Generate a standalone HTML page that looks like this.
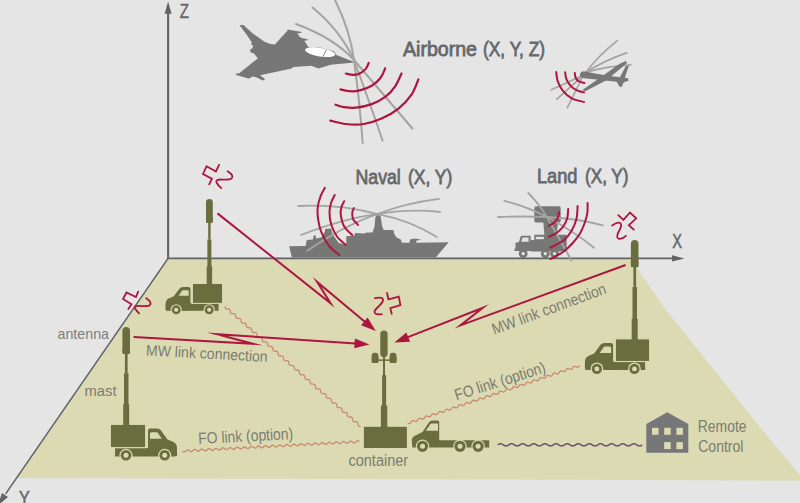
<!DOCTYPE html>
<html><head><meta charset="utf-8"><title>Passive surveillance system diagram</title>
<style>
html,body{margin:0;padding:0;background:#e5e5e5;}
body{width:800px;height:503px;overflow:hidden;font-family:"Liberation Sans",sans-serif;}
svg{display:block;font-family:"Liberation Sans",sans-serif;}
</style></head><body>
<svg width="800" height="503" viewBox="0 0 800 503">
<rect width="800" height="503" fill="#e5e5e5"/>
<path d="M168.5,259 L630.6,259 L666,310 L770.4,440 L800.5,475.5 L800.5,480.5 L17.5,478 Z" fill="#dbdab3"/>
<g stroke="#626366" fill="none"><line x1="168.1" y1="258.4" x2="168.1" y2="12" stroke-width="2.1"/><line x1="167.1" y1="258.4" x2="673" y2="258.4" stroke-width="1.9"/><line x1="168.1" y1="258.4" x2="5.6" y2="493.9" stroke-width="1.6"/></g>
<polygon points="168.1,1.5 164.6,13.8 171.6,13.8" fill="#626366"/>
<polygon points="684.5,258.4 672,255.2 672,261.6" fill="#626366"/>
<polygon points="-2.4,505.7 2.0,492.9 8.0,497.1" fill="#626366"/>
<path d="M225.0,306.6 q0.00,2.67 2.66,2.35 t2.66,2.35 t2.66,2.35 t2.66,2.35 t2.66,2.35 t2.66,2.35 t2.66,2.35 t2.66,2.35 t2.66,2.35 t2.66,2.35 t2.66,2.35 t2.66,2.35 t2.66,2.35 t2.66,2.35 t2.66,2.35 t2.66,2.35 t2.66,2.35 t2.66,2.35 t2.66,2.35 t2.66,2.35 t2.66,2.35 t2.66,2.35 t2.66,2.35 t2.66,2.35 t2.66,2.35 t2.66,2.35 t2.66,2.35 t2.66,2.35 t2.66,2.35 t2.66,2.35 t2.66,2.35 t2.66,2.35 t2.66,2.35 t2.66,2.35 t2.66,2.35 t2.66,2.35 t2.66,2.35 t2.66,2.35 t2.66,2.35 t2.66,2.35 t2.66,2.35 t2.66,2.35 t2.66,2.35 t2.66,2.35 t2.66,2.35 t2.66,2.35 t2.66,2.35 t2.66,2.35 t2.66,2.35 t2.66,2.35 t2.66,2.35" fill="none" stroke="#c98a6e" stroke-width="1.3"/>
<path d="M182.4,451.1 q1.88,1.90 3.54,-0.19 t3.54,-0.19 t3.54,-0.19 t3.54,-0.19 t3.54,-0.19 t3.54,-0.19 t3.54,-0.19 t3.54,-0.19 t3.54,-0.19 t3.54,-0.19 t3.54,-0.19 t3.54,-0.19 t3.54,-0.19 t3.54,-0.19 t3.54,-0.19 t3.54,-0.19 t3.54,-0.19 t3.54,-0.19 t3.54,-0.19 t3.54,-0.19 t3.54,-0.19 t3.54,-0.19 t3.54,-0.19 t3.54,-0.19 t3.54,-0.19 t3.54,-0.19 t3.54,-0.19 t3.54,-0.19 t3.54,-0.19 t3.54,-0.19 t3.54,-0.19 t3.54,-0.19 t3.54,-0.19 t3.54,-0.19 t3.54,-0.19 t3.54,-0.19 t3.54,-0.19 t3.54,-0.19 t3.54,-0.19 t3.54,-0.19 t3.54,-0.19 t3.54,-0.19 t3.54,-0.19 t3.54,-0.19 t3.54,-0.19 t3.54,-0.19 t3.54,-0.19 t3.54,-0.19 t3.54,-0.19 t3.54,-0.19" fill="none" stroke="#c98a6e" stroke-width="1.3"/>
<path d="M407.7,423.2 q2.32,1.33 3.37,-1.13 t3.37,-1.13 t3.37,-1.13 t3.37,-1.13 t3.37,-1.13 t3.37,-1.13 t3.37,-1.13 t3.37,-1.13 t3.37,-1.13 t3.37,-1.13 t3.37,-1.13 t3.37,-1.13 t3.37,-1.13 t3.37,-1.13 t3.37,-1.13 t3.37,-1.13 t3.37,-1.13 t3.37,-1.13 t3.37,-1.13 t3.37,-1.13 t3.37,-1.13 t3.37,-1.13 t3.37,-1.13 t3.37,-1.13 t3.37,-1.13 t3.37,-1.13 t3.37,-1.13 t3.37,-1.13 t3.37,-1.13 t3.37,-1.13 t3.37,-1.13 t3.37,-1.13 t3.37,-1.13 t3.37,-1.13 t3.37,-1.13 t3.37,-1.13 t3.37,-1.13 t3.37,-1.13 t3.37,-1.13 t3.37,-1.13 t3.37,-1.13 t3.37,-1.13 t3.37,-1.13 t3.37,-1.13 t3.37,-1.13 t3.37,-1.13 t3.37,-1.13 t3.37,-1.13 t3.37,-1.13 t3.37,-1.13 t3.37,-1.13" fill="none" stroke="#c98a6e" stroke-width="1.3"/>
<path d="M497.7,444.8 q2.78,-2.10 5.56,0.00 t5.56,0.00 t5.56,0.00 t5.56,0.00 t5.56,0.00 t5.56,0.00 t5.56,0.00 t5.56,0.00 t5.56,0.00 t5.56,0.00 t5.56,0.00 t5.56,0.00 t5.56,0.00 t5.56,0.00 t5.56,0.00 t5.56,0.00 t5.56,0.00 t5.56,0.00 t5.56,0.00 t5.56,0.00 t5.56,0.00 t5.56,0.00 t5.56,0.00 t5.56,0.00 t5.56,0.00 t5.56,0.00" fill="none" stroke="#6e5074" stroke-width="1.5"/>
<g transform="translate(193,284) scale(-0.853,0.853) translate(-34,0)" fill="#6a6d3d"><path d="M4,23 L66,23 L66,29 Q66,31.5 63.5,31.5 L4,31.5 Z"/><path d="M37,31 L37,5.5 Q37,3.5 39,3.5 L46,3.5 Q48.5,3.5 50,5.5 L56.5,14.5 L62,16.8 Q66,18.5 66,23 L66,31 Z"/><path d="M39,13.8 L39,8.8 Q39,7.2 40.6,7.2 L45.2,7.2 Q46.4,7.2 47.2,8.4 L50.8,13.8 Z" fill="#dbdab3"/><rect x="-0.7" y="-0.7" width="35.4" height="23.4" fill="#6a6d3d" stroke="#dbdab3" stroke-width="1.2"/><circle cx="15" cy="30.3" r="6.6" fill="#dbdab3"/><circle cx="15" cy="30.3" r="5.3"/><circle cx="15" cy="30.3" r="2.5" fill="#dbdab3"/><circle cx="53.7" cy="30.3" r="6.6" fill="#dbdab3"/><circle cx="53.7" cy="30.3" r="5.3"/><circle cx="53.7" cy="30.3" r="2.5" fill="#dbdab3"/></g>
<g fill="#6a6d3d"><rect x="206.0" y="199" width="6.8" height="24" rx="3.4" ry="3.4"/><rect x="206.0" y="217" width="6.8" height="6" rx="1"/><rect x="208.2" y="222" width="2.4" height="17.5"/><rect x="207.4" y="239.5" width="4.0" height="27.8"/><rect x="206.7" y="266.3" width="5.4" height="18.7"/></g>
<g transform="translate(111,425) scale(1.0)" fill="#6a6d3d"><path d="M4,23 L66,23 L66,29 Q66,31.5 63.5,31.5 L4,31.5 Z"/><path d="M37,31 L37,5.5 Q37,3.5 39,3.5 L46,3.5 Q48.5,3.5 50,5.5 L56.5,14.5 L62,16.8 Q66,18.5 66,23 L66,31 Z"/><path d="M39,13.8 L39,8.8 Q39,7.2 40.6,7.2 L45.2,7.2 Q46.4,7.2 47.2,8.4 L50.8,13.8 Z" fill="#dbdab3"/><rect x="-0.7" y="-0.7" width="35.4" height="23.4" fill="#6a6d3d" stroke="#dbdab3" stroke-width="1.2"/><circle cx="15" cy="30.3" r="6.6" fill="#dbdab3"/><circle cx="15" cy="30.3" r="5.3"/><circle cx="15" cy="30.3" r="2.5" fill="#dbdab3"/><circle cx="53.7" cy="30.3" r="6.6" fill="#dbdab3"/><circle cx="53.7" cy="30.3" r="5.3"/><circle cx="53.7" cy="30.3" r="2.5" fill="#dbdab3"/></g>
<g fill="#6a6d3d"><rect x="122.4" y="327" width="7.6" height="27" rx="3.8" ry="3.8"/><rect x="122.4" y="348" width="7.6" height="6" rx="1"/><rect x="124.9" y="353" width="2.7" height="20.2"/><rect x="124.0" y="373.2" width="4.5" height="32.2"/><rect x="123.2" y="404.4" width="6.0" height="21.6"/></g>
<g transform="translate(616,339.5) scale(-0.97,0.97) translate(-34,0)" fill="#6a6d3d"><path d="M4,23 L66,23 L66,29 Q66,31.5 63.5,31.5 L4,31.5 Z"/><path d="M37,31 L37,5.5 Q37,3.5 39,3.5 L46,3.5 Q48.5,3.5 50,5.5 L56.5,14.5 L62,16.8 Q66,18.5 66,23 L66,31 Z"/><path d="M39,13.8 L39,8.8 Q39,7.2 40.6,7.2 L45.2,7.2 Q46.4,7.2 47.2,8.4 L50.8,13.8 Z" fill="#dbdab3"/><rect x="-0.7" y="-0.7" width="35.4" height="23.4" fill="#6a6d3d" stroke="#dbdab3" stroke-width="1.2"/><circle cx="15" cy="30.3" r="6.6" fill="#dbdab3"/><circle cx="15" cy="30.3" r="5.3"/><circle cx="15" cy="30.3" r="2.5" fill="#dbdab3"/><circle cx="53.7" cy="30.3" r="6.6" fill="#dbdab3"/><circle cx="53.7" cy="30.3" r="5.3"/><circle cx="53.7" cy="30.3" r="2.5" fill="#dbdab3"/></g>
<g fill="#6a6d3d"><rect x="630.9" y="240" width="7.6" height="27.30000000000001" rx="3.8" ry="3.8"/><rect x="630.9" y="261.3" width="7.6" height="6" rx="1"/><rect x="633.4" y="266.3" width="2.7" height="20.6"/><rect x="632.5" y="286.9" width="4.5" height="33.0"/><rect x="631.7" y="318.9" width="6.0" height="22.1"/></g>
<g fill="#6a6d3d"><rect x="380.3" y="330.6" width="7.3" height="26.6" rx="3.6"/><rect x="371.7" y="352.7" width="6.8" height="10.2" rx="3.2"/><rect x="371.7" y="357.5" width="6.8" height="5.4" rx="1"/><rect x="389.7" y="352.7" width="6.8" height="10.2" rx="3.2"/><rect x="389.7" y="357.5" width="6.8" height="5.4" rx="1"/><rect x="376" y="359.4" width="17" height="1.5"/><rect x="383" y="355" width="2" height="22"/><rect x="382.1" y="375.2" width="4" height="31"/><rect x="380.9" y="405.6" width="6.4" height="22"/><rect x="363.9" y="426.8" width="43" height="21.2"/></g>
<g fill="#6a6d3d"><path d="M412.4,447.5 L411.8,441 Q411.6,437.5 414.5,436 L422.5,432 L428.5,423 Q430,420.6 432.5,420.6 L437.5,420.6 Q439.2,420.6 439.2,422.3 L439.2,440.2 L489.2,440.2 L489.2,447.5 Z"/><path d="M425.8,430.8 L430.3,424.2 Q430.8,423.5 431.6,423.5 L438,423.5 L438,430.8 Z" fill="#dbdab3"/><circle cx="422.5" cy="446.3" r="6.7" fill="#dbdab3"/><circle cx="422.5" cy="446.3" r="5.6"/><circle cx="422.5" cy="446.3" r="2.5" fill="#dbdab3"/><circle cx="460" cy="446.3" r="6.7" fill="#dbdab3"/><circle cx="460" cy="446.3" r="5.6"/><circle cx="460" cy="446.3" r="2.5" fill="#dbdab3"/><circle cx="478.1" cy="446.3" r="6.7" fill="#dbdab3"/><circle cx="478.1" cy="446.3" r="5.6"/><circle cx="478.1" cy="446.3" r="2.5" fill="#dbdab3"/></g>
<g><path d="M646.3,452.8 L646.3,424 L667.3,412.2 L688.3,424 L688.3,452.8 Z" fill="#77777a"/><rect x="652" y="427.8" width="6.5" height="7" fill="#dbdab3"/><rect x="664.2" y="427.8" width="6.5" height="7" fill="#dbdab3"/><rect x="676.4" y="427.8" width="6.5" height="7" fill="#dbdab3"/><rect x="664.2" y="442.1" width="6.5" height="7" fill="#dbdab3"/><rect x="676.4" y="442.1" width="6.5" height="7" fill="#dbdab3"/></g>
<path d="M217.5,213.4 L330.6,303.3 L317.1,281.9 L365.1,322.0" fill="none" stroke="#ad1640" stroke-width="2.0" stroke-linejoin="miter" stroke-miterlimit="40"/>
<path d="M375.8,331.1 L361.1,325.2 L367.6,317.6 Z" fill="#ad1640"/>
<path d="M133.6,337.0 L252.8,343.7 L217.1,334.3 L355.5,343.4" fill="none" stroke="#ad1640" stroke-width="2.0" stroke-linejoin="miter" stroke-miterlimit="40"/>
<path d="M369.5,344.4 L354.2,348.3 L354.9,338.4 Z" fill="#ad1640"/>
<path d="M625.6,265.0 L460.3,325.4 L482.9,307.8 L407.3,337.4" fill="none" stroke="#ad1640" stroke-width="2.0" stroke-linejoin="miter" stroke-miterlimit="40"/>
<path d="M394.3,342.6 L406.4,332.4 L410.1,341.7 Z" fill="#ad1640"/>
<g fill="none" stroke="#ad1640" stroke-width="1.8" stroke-linecap="round" stroke-linejoin="miter"><polyline points="219.1,164.8 215.9,171.5 206.5,166.2 203.0,174.0 211.9,178.7 209.2,184.3"/><path d="M227.6,171.3 Q234.5,175.5 231.5,178.5 Q229.5,180.2 221,179.5 Q215,179.5 216.6,182.5 Q218,185.5 221.3,188.1"/></g>
<g fill="none" stroke="#ad1640" stroke-width="1.8" stroke-linecap="round" stroke-linejoin="miter"><polyline points="138.2,291.6 135.9,297.0 126.5,292.5 123.0,299.0 131.5,304.2 128.3,309.1"/><path d="M146.2,298.3 Q152.5,302.5 149.8,305.2 Q148,306.6 139.5,305.9 Q133.5,305.6 135,308.5 Q136.5,311 139.1,313.3"/></g>
<g fill="none" stroke="#ad1640" stroke-width="1.8" stroke-linecap="round" stroke-linejoin="miter"><polyline points="387.0,293.0 388.5,299.3 398.8,296.6 400.4,305.1 390.3,308.1 391.7,313.8"/><path d="M374.9,298.2 Q383.5,296.5 383,300.5 Q382.5,303 377,308 Q372.5,312.5 376,313.8 Q379,314.6 381.8,314.1"/></g>
<g fill="none" stroke="#ad1640" stroke-width="1.8" stroke-linecap="round" stroke-linejoin="miter"><polyline points="618.3,215.2 623.4,219.9 630.0,212.5 636.2,218.3 628.8,225.2 633.8,229.7"/><path d="M612.1,225.5 Q619.5,220.5 621,224 Q621.8,226.5 618.5,232 Q615.5,238 619.2,238.9 Q622.5,239.2 625.9,235.8"/></g>
<polygon points="239.4,24.9 243.5,25.1 252.5,33.2 263.8,41.2 269.4,43.8 274.8,44.4 287.4,30.8 287.4,29.6 302.0,32.1 300.9,33.0 297.5,33.3 299.8,36.9 302.0,38.1 307.6,39.2 307.6,40.3 304.3,40.7 308.8,47.6 320.0,47.5 334.0,51.2 336.4,54.9 354.3,61.9 354.3,62.6 330.7,64.7 318.6,68.4 314.5,67.1 311.3,65.8 293.4,67.1 291.8,68.4 260.0,75.2 263.7,77.9 265.0,79.6 262.8,80.5 256.2,77.2 251.9,76.4 250.4,77.9 248.6,78.4 236.1,74.9 235.7,73.4 238.9,73.5 257.8,58.4 256.4,56.6 254.2,53.8 250.3,52.1 250.3,49.3 252.5,48.2 253.0,45.4 250.8,44.3 251.9,42.6 246.5,34.5" fill="#777777"/>
<g transform="rotate(9 320.2 52.2)"><ellipse cx="320.2" cy="52.2" rx="15.2" ry="4.3" fill="#fff"/><line x1="323.5" y1="56.3" x2="326" y2="48.5" stroke="#777777" stroke-width="0.8"/></g>
<g fill="none" stroke="#a4a4a4" stroke-width="2" stroke-linecap="round"><path d="M296,24 Q334,38 354,60 Q379.6,89.8 412.4,128.5"/><path d="M312.5,7.5 Q340,30 354,60 Q368,98 382.6,140.5"/><path d="M335,0 Q350,30 354,60 Q359.5,100 362.7,143"/></g>
<g fill="none" stroke="#ad1640" stroke-width="2.2" stroke-linecap="round"><path d="M368.7,62.9 C368.2,63.9 367.2,67.1 365.7,68.9 C364.2,70.7 361.9,72.5 359.8,73.5 C357.7,74.5 355.1,74.9 352.8,74.9 C350.5,74.9 347.0,73.7 345.8,73.5"/><path d="M385.2,68.3 C384.4,69.9 382.9,74.9 380.6,77.8 C378.4,80.7 375.2,83.7 371.7,85.8 C368.2,87.9 363.4,89.5 359.8,90.4 C356.2,91.3 353.0,91.4 349.8,91.2 C346.6,91.0 342.1,89.7 340.5,89.4"/><path d="M401.5,73.5 C400.5,75.5 398.1,81.9 395.5,85.8 C392.9,89.7 389.6,93.7 385.6,96.7 C381.6,99.8 376.7,102.3 371.7,104.1 C366.7,105.9 360.4,107.2 355.8,107.7 C351.2,108.2 347.3,107.6 343.9,107.1 C340.5,106.6 336.9,105.1 335.5,104.7"/><path d="M418.4,79.4 C417.2,82.0 414.8,89.8 411.5,94.7 C408.2,99.6 403.5,104.6 398.5,108.6 C393.5,112.6 387.4,116.0 381.6,118.6 C375.8,121.2 369.7,123.1 363.7,124.0 C357.7,124.9 351.4,124.6 345.8,124.0 C340.2,123.4 332.9,121.2 330.3,120.6"/></g>
<g fill="none" stroke="#a4a4a4" stroke-width="1.7" stroke-linecap="round"><path d="M617.3,40.7 Q598,56 586,72.5"/><path d="M581.5,76 L551.3,89.8"/><path d="M626.7,52.9 Q603,61 586,72.5"/><path d="M581.5,77 L556.9,99.1"/><path d="M630.7,64.8 Q606,66 586,72.5"/><path d="M582,78 L567.4,107.7"/></g>
<g fill="#777777" stroke="none"><path d="M579.9,74.4 Q580.5,71.5 584,71.3 L595,73.4 L610,76 L628.2,78.3 L628.4,80.8 L623.7,82.3 L621.9,86.8 L619.5,86.8 L616.7,81.8 L598.8,79.8 L584,78.3 Q580,77.5 579.9,74.4 Z"/><path d="M582.4,90 L584.9,91.6 L606.8,80 L627,62.9 L625.7,60.9 L619.7,63.7 L602.8,75.8 Z"/><path d="M618.5,80 L625.7,66.2 L628.8,65.7 L624.4,79 Z"/></g>
<g fill="none" stroke="#ad1640" stroke-width="2" stroke-linecap="round"><path d="M574.8,73.0 C574.9,73.8 575.0,76.1 575.6,77.5 C576.2,78.9 577.0,80.3 578.5,81.2 C580.0,82.1 583.5,82.7 584.5,83.0"/><path d="M565.1,72.3 C565.4,73.5 565.6,77.3 566.6,79.7 C567.6,82.1 569.4,84.6 571.1,86.4 C572.8,88.2 574.9,89.4 577.0,90.4 C579.1,91.4 582.8,92.1 584.0,92.4"/><path d="M556.2,72.0 C556.5,73.5 556.6,78.0 557.7,81.2 C558.8,84.4 560.5,88.1 562.9,90.9 C565.2,93.8 568.3,96.5 571.8,98.3 C575.3,100.1 582.0,101.4 584.0,102.0"/></g>
<polygon points="291.9,257.4 289.2,246.3 305.6,246.0 306.8,240.0 313.0,239.4 313.5,235.7 315.6,235.3 316.0,238.6 321.3,237.6 325.0,231.3 325.0,229.0 331.3,228.5 331.9,231.9 333.1,235.0 338.8,243.0 346.2,244.8 346.3,236.3 354.4,235.6 355.0,233.1 365.0,233.4 366.3,232.4 372.5,232.4 374.4,227.3 375.4,217.3 377.4,214.5 380.6,216.2 382.3,226.9 383.8,230.0 393.4,230.0 394.4,234.3 396.6,237.5 400.8,239.6 401.9,242.8 409.3,242.8 410.4,239.2 415.7,238.6 421.0,239.6 416.3,240.7 416.3,242.8 448.7,242.2 435.8,257.4" fill="#777777"/>
<g fill="none" stroke="#a4a4a4" stroke-width="1.8" stroke-linecap="round"><path d="M298.2,206 Q340,204 377.4,214.1"/><path d="M300.9,235 Q345,218 377.4,214.1"/><path d="M307.3,250.7 Q345,225 377.4,214.1"/><path d="M439.1,198.8 Q405,203 377.4,214.1"/><path d="M440.1,212 Q410,208.5 377.4,214.1"/><path d="M436.9,237.1 Q410,220 377.4,214.1"/></g>
<g fill="none" stroke="#ad1640" stroke-width="2" stroke-linecap="round"><path d="M353.9,208.1 C353.6,208.8 352.4,210.8 352.3,212.6 C352.2,214.4 352.2,217.1 353.1,219.2 C354.1,221.2 357.2,223.9 358.0,224.9"/><path d="M344.2,201.2 C343.7,202.3 341.8,205.2 341.2,207.7 C340.6,210.1 340.4,212.8 340.9,215.9 C341.4,219.0 342.3,223.3 344.2,226.5 C346.1,229.7 350.9,233.7 352.3,235.1"/><path d="M334.7,195.0 C334.1,196.3 332.0,199.9 331.1,202.8 C330.2,205.7 329.5,209.1 329.5,212.6 C329.5,216.1 329.9,220.1 331.1,224.0 C332.3,227.9 334.4,232.8 336.8,236.3 C339.2,239.8 344.3,243.5 345.8,244.9"/><path d="M324.9,187.8 C324.2,189.2 321.7,193.0 320.5,196.3 C319.3,199.6 318.1,203.9 317.7,207.7 C317.3,211.5 317.5,215.1 318.1,219.2 C318.7,223.3 319.5,227.8 321.3,232.2 C323.1,236.5 325.7,241.5 328.7,245.3 C331.7,249.1 337.5,253.4 339.3,255.0"/></g>
<g fill="#777777"><rect x="534.3" y="206.2" width="26.4" height="16.3" rx="1.8"/><path d="M543.3,222 L558,222 L556.5,236 L544.5,236 Z"/><rect x="534.3" y="234.7" width="32.4" height="5.5"/><rect x="531" y="240" width="35.7" height="11.5"/><path d="M514.5,251 L514.5,248.5 L515.5,248.5 L515.5,242.8 L519,242 L520.5,236.8 Q520.8,235.8 522,235.8 L530.5,235.8 L531.5,251 Z"/><rect x="535.8" y="236.8" width="8" height="2.4" fill="#e5e5e5"/><path d="M521.2,241.8 L522.3,238.2 Q522.5,237.6 523.2,237.6 L528.6,237.6 L528.6,241.8 Z" fill="#e5e5e5"/><circle cx="523.2" cy="253.6" r="4.4"/><circle cx="523.2" cy="253.6" r="1.7" fill="#e5e5e5"/><circle cx="545.3" cy="253.6" r="4.4"/><circle cx="545.3" cy="253.6" r="1.7" fill="#e5e5e5"/><circle cx="554.5" cy="253.6" r="4.4"/><circle cx="554.5" cy="253.6" r="1.7" fill="#e5e5e5"/></g>
<g fill="none" stroke="#a4a4a4" stroke-width="1.8" stroke-linecap="round"><path d="M498,217 Q525,216 546.8,217 Q580,219 603,225.3"/><path d="M504.3,200.8 Q528,207 546.8,217 Q575,232 594,247.8"/><path d="M528.3,193 Q540,205 546.8,217 Q560,240 571.5,260.5"/></g>
<g fill="none" stroke="#ad1640" stroke-width="2" stroke-linecap="round"><path d="M559.1,212.0 C558.9,213.0 558.7,216.2 557.8,218.0 C556.9,219.8 555.4,221.5 553.9,222.8 C552.4,224.1 549.8,225.1 549.0,225.6"/><path d="M568.2,208.9 C568.0,210.5 568.1,215.6 567.1,218.7 C566.1,221.8 564.1,225.3 562.3,227.7 C560.4,230.1 558.2,231.8 556.0,233.3 C553.8,234.8 550.2,236.1 549.0,236.7"/><path d="M577.6,206.1 C577.4,208.2 577.5,214.5 576.5,218.7 C575.5,222.9 573.4,227.6 571.3,231.2 C569.2,234.8 567.2,237.5 563.7,240.2 C560.2,242.9 552.6,246.4 550.4,247.6"/><path d="M587.6,203.1 C587.5,204.8 587.8,209.7 587.3,213.1 C586.8,216.5 585.8,220.0 584.5,223.5 C583.2,227.0 581.7,230.8 579.7,234.0 C577.7,237.2 575.5,240.0 572.7,243.0 C569.9,246.0 566.7,249.3 563.0,252.0 C559.3,254.7 552.5,257.8 550.4,259.0"/></g>
<text x="179.8" y="17.7" font-size="19.8" font-weight="normal" fill="#66686c" textLength="9.2" lengthAdjust="spacingAndGlyphs" stroke="#66686c" stroke-width="0.5">Z</text>
<text x="672.2" y="248.4" font-size="19.8" font-weight="normal" fill="#66686c" textLength="9.8" lengthAdjust="spacingAndGlyphs" stroke="#66686c" stroke-width="0.5">X</text>
<text x="19" y="505" font-size="19.6" font-weight="normal" fill="#66686c" textLength="10.8" lengthAdjust="spacingAndGlyphs" stroke="#66686c" stroke-width="0.5">Y</text>
<text x="403" y="56" font-size="20.5" font-weight="normal" fill="#66686c" textLength="74" lengthAdjust="spacingAndGlyphs" stroke="#66686c" stroke-width="0.8">Airborne</text>
<text x="483" y="56" font-size="20.5" font-weight="normal" fill="#66686c" textLength="62" lengthAdjust="spacingAndGlyphs" stroke="#66686c" stroke-width="0.8">(X, Y, Z)</text>
<text x="355.5" y="184.3" font-size="20.5" font-weight="normal" fill="#66686c" textLength="45.3" lengthAdjust="spacingAndGlyphs" stroke="#66686c" stroke-width="0.8">Naval</text>
<text x="408" y="184.3" font-size="20.5" font-weight="normal" fill="#66686c" textLength="44.2" lengthAdjust="spacingAndGlyphs" stroke="#66686c" stroke-width="0.8">(X, Y)</text>
<text x="537" y="182.8" font-size="20.5" font-weight="normal" fill="#66686c" textLength="40.5" lengthAdjust="spacingAndGlyphs" stroke="#66686c" stroke-width="0.8">Land</text>
<text x="585" y="182.8" font-size="20.5" font-weight="normal" fill="#66686c" textLength="43.5" lengthAdjust="spacingAndGlyphs" stroke="#66686c" stroke-width="0.8">(X, Y)</text>
<text x="57.5" y="339.3" font-size="15" font-weight="normal" fill="#7d7e7c" textLength="51.5" lengthAdjust="spacingAndGlyphs">antenna</text>
<text x="84.5" y="396" font-size="15.5" font-weight="normal" fill="#7c7c70" textLength="32" lengthAdjust="spacingAndGlyphs">mast</text>
<text x="348.5" y="466" font-size="16.3" font-weight="normal" fill="#7c7c70" textLength="59.6" lengthAdjust="spacingAndGlyphs">container</text>
<text x="697.8" y="432.3" font-size="15.8" font-weight="normal" fill="#7c7c70" textLength="48.7" lengthAdjust="spacingAndGlyphs">Remote</text>
<text x="698.2" y="451.8" font-size="15.8" font-weight="normal" fill="#7c7c70" textLength="45.3" lengthAdjust="spacingAndGlyphs">Control</text>
<text x="145.8" y="355.4" font-size="15.3" font-weight="normal" fill="#7c7c70" textLength="121.8" lengthAdjust="spacingAndGlyphs" transform="rotate(3.1 145.8 355.4)">MW link connection</text>
<text x="494.3" y="334.8" font-size="15.8" font-weight="normal" fill="#7c7c70" textLength="120.3" lengthAdjust="spacingAndGlyphs" transform="rotate(-20.3 494.3 334.8)">MW link connection</text>
<text x="198.5" y="444" font-size="16.2" font-weight="normal" fill="#7c7c70" textLength="95" lengthAdjust="spacingAndGlyphs" transform="rotate(-3 198.5 444)">FO link (option)</text>
<text x="456.6" y="400.5" font-size="16" font-weight="normal" fill="#7c7c70" textLength="94.5" lengthAdjust="spacingAndGlyphs" transform="rotate(-17.5 456.6 400.5)">FO link (option)</text>
</svg>
</body></html>
